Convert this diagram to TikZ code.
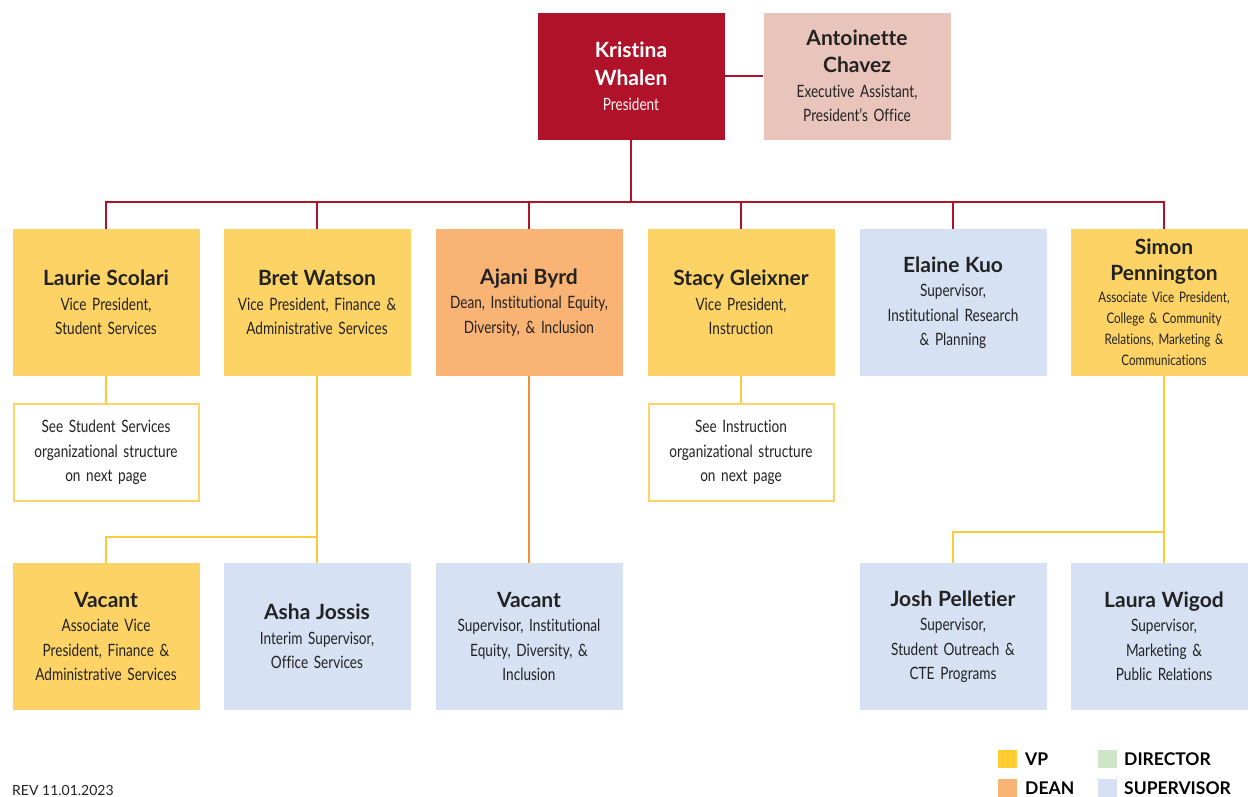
\documentclass[tikz,border=0pt]{standalone}
\usepackage{fontspec}
\setmainfont{Lato}
\newfontfamily\namefont[Ligatures=NoCommon]{Lato}
\newfontfamily\subfont[FakeStretch=0.8,Ligatures=NoCommon,WordSpace=0.85]{Lato}
\definecolor{pred}{HTML}{AF1229}
\definecolor{pink}{HTML}{E8C4BA}
\definecolor{vpyel}{HTML}{FDD366}
\definecolor{legyel}{HTML}{FFCC33}
\definecolor{deanor}{HTML}{F9B374}
\definecolor{supblue}{HTML}{D6E1F3}
\definecolor{dirgreen}{HTML}{CFE5C8}
\definecolor{lineyel}{HTML}{FDCB3A}
\definecolor{lineor}{HTML}{F39234}
\definecolor{subgray}{HTML}{222222}
\newcommand\nm[1]{{\namefont\bfseries\fontsize{21}{25}\selectfont #1}}
\begin{document}
\begin{tikzpicture}[x=1pt,y=-1pt,
  box/.style={minimum width=187pt, minimum height=147pt, inner sep=0pt, align=center, text width=180pt,
    font=\subfont\fontsize{17}{24.5}\selectfont, text=subgray},
  vpbox/.style={box, fill=vpyel},
  supbox/.style={box, fill=supblue},
  deanbox/.style={box, fill=deanor},
  seebox/.style={box, minimum width=185pt, minimum height=97pt, fill=white, draw=vpyel, line width=2pt},
  redline/.style={draw=pred, line width=2pt},
  yline/.style={draw=lineyel, line width=2pt},
  oline/.style={draw=lineor, line width=2pt},
  legsq/.style={minimum width=19pt, minimum height=18pt, inner sep=0pt},
  legtxt/.style={anchor=west, inner sep=0pt, font=\namefont\bfseries\fontsize{17.5}{19}\selectfont, text=black}
]
\useasboundingbox (0,0) rectangle (1248,796);
% top
\node[box, minimum height=127pt, fill=pred, text=white] (pres) at (631,76)
  {\nm{Kristina}\\[4pt]\nm{Whalen}\\{\color{white!90!pink}President}};
\node[box, minimum height=127pt, fill=pink] (asst) at (857,76)
  {\nm{Antoinette}\\[3pt]\nm{Chavez}\\Executive Assistant,\\President’s Office};
% row 2
\node[vpbox] (laurie) at (106,302.5) {\nm{Laurie Scolari}\\Vice President,\\Student Services};
\node[vpbox] (bret) at (317,302.5) {\nm{Bret Watson}\\Vice President, Finance \&\\Administrative Services};
\node[deanbox] (ajani) at (529,302.5) {\nm{Ajani Byrd}\\Dean, Institutional Equity,\\Diversity, \& Inclusion};
\node[vpbox] (stacy) at (741,302.5) {\nm{Stacy Gleixner}\\Vice President,\\Instruction};
\node[supbox] (elaine) at (953,302.5) {\nm{Elaine Kuo}\\Supervisor,\\Institutional Research\\\& Planning};
\node[vpbox, font=\subfont\fontsize{14.5}{21}\selectfont] (simon) at (1164,302.5)
  {\nm{Simon}\\[5pt]\nm{Pennington}\\[1pt]Associate Vice President,\\College \& Community\\Relations, Marketing \&\\Communications};
% see boxes
\node[seebox] (seess) at (106,452.5) {See Student Services\\organizational structure\\on next page};
\node[seebox] (seeins) at (741,452.5) {See Instruction\\organizational structure\\on next page};
% row 3
\node[vpbox] (vacvp) at (106,636.5) {\nm{Vacant}\\Associate Vice\\President, Finance \&\\Administrative Services};
\node[supbox] (asha) at (317,636.5) {\nm{Asha Jossis}\\Interim Supervisor,\\Office Services};
\node[supbox] (vacsup) at (529,636.5) {\nm{Vacant}\\Supervisor, Institutional\\Equity, Diversity, \&\\Inclusion};
\node[supbox] (josh) at (953,636.5) {\nm{Josh Pelletier}\\Supervisor,\\Student Outreach \&\\CTE Programs};
\node[supbox] (laura) at (1164,636.5) {\nm{Laura Wigod}\\Supervisor,\\Marketing \&\\Public Relations};
% connectors
\draw[redline] (pres) -- (asst);
\coordinate (bus) at (631,202);
\draw[redline] (pres.south) -- (bus);
\foreach \c in {laurie,bret,ajani,stacy,elaine,simon}
  \draw[redline] (bus) -| (\c.north);
\draw[yline] (laurie.south) -- (seess.north);
\draw[yline] (stacy.south) -- (seeins.north);
\coordinate (bretj) at (317,537);
\draw[yline] (bret.south) -- (asha.north);
\draw[yline] (bretj) -| (vacvp.north);
\draw[oline] (ajani.south) -- (vacsup.north);
\coordinate (simj) at (1164,532);
\draw[yline] (simon.south) -- (laura.north);
\draw[yline] (simj) -| (josh.north);
% legend
\node[legsq, fill=legyel] (lvp) at (1007.5,759) {};
\node[legtxt] (lvpt) at (1025,759) {VP};
\node[legsq, fill=deanor] (ldean) at (1007.5,788) {};
\node[legtxt] (ldeant) at (1025,788) {DEAN};
\node[legsq, fill=dirgreen] (ldir) at (1107.5,759) {};
\node[legtxt] (ldirt) at (1124,759) {DIRECTOR};
\node[legsq, fill=supblue] (lsup) at (1107.5,788) {};
\node[legtxt] (lsupt) at (1124,788) {SUPERVISOR};
\node[anchor=west, inner sep=0pt, font=\fontsize{14}{16}\selectfont, text=subgray] (rev) at (12,790) {REV 11.01.2023};
\end{tikzpicture}
\end{document}
